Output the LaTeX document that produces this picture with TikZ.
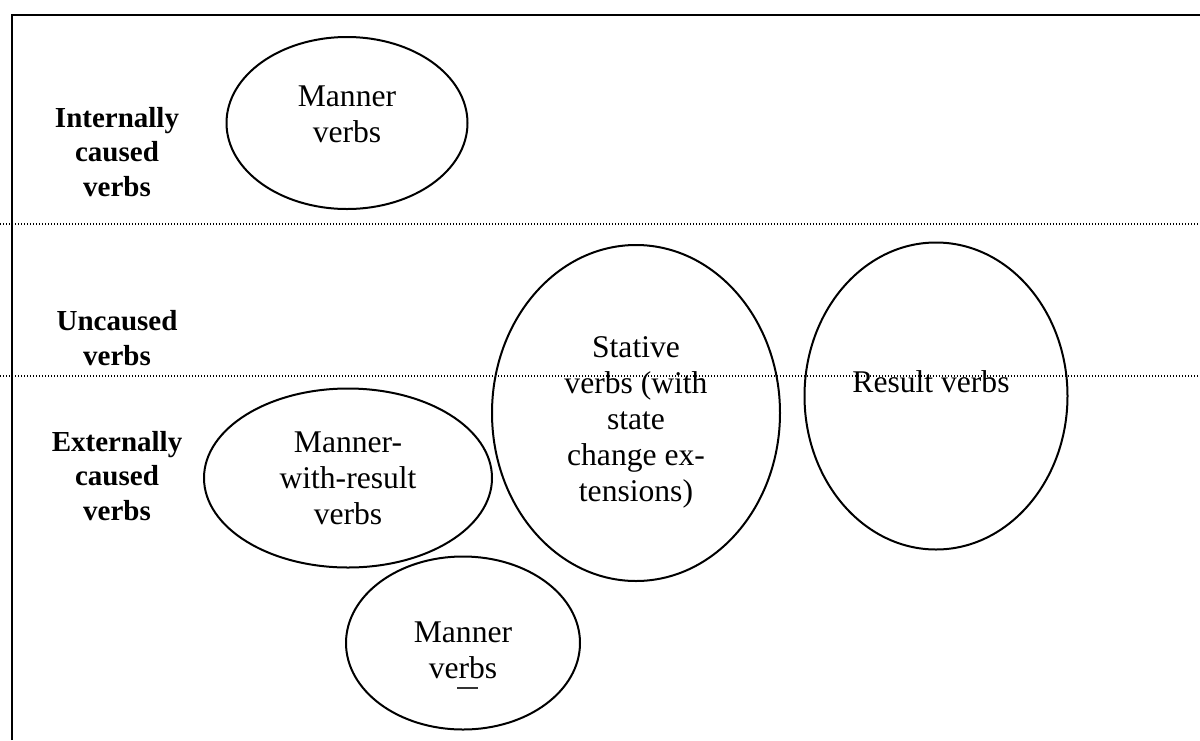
\documentclass[tikz,border=0pt]{standalone}
\usepackage{fontspec}
\setmainfont{Liberation Serif}
\usetikzlibrary{shapes.geometric,positioning}
\tikzstyle{verbset}=[draw,ellipse,line width=1pt,inner sep=0pt]
\tikzstyle{settext}=[align=center,inner sep=0pt,font=\fontsize{15.8}{18}\selectfont]
\tikzstyle{rowlabel}=[align=center,inner sep=0pt,font=\fontsize{14.5}{17.3}\selectfont\bfseries]
\tikzstyle{rowline}=[line width=0.7pt,dash pattern=on 0.7pt off 0.8pt]

\begin{document}
\begin{tikzpicture}[x=0.5pt,y=-0.5pt]
  \useasboundingbox (0,0) rectangle (1200,740);
  % frame
  \draw[line width=1pt] (12,740) -- (12,15) -- (1200,15);

  % row labels
  \node[rowlabel] (internal) at (117,152) {Internally\\caused\\verbs};
  \node[rowlabel] (uncaused) at (117,338) {Uncaused\\verbs};
  \node[rowlabel] (external) at (117,476) {Externally\\caused\\verbs};

  % verb classes
  \node[verbset,minimum width=120.5pt,minimum height=86pt]   (mannerI)  at (347,123) {};
  \node[verbset,minimum width=144pt,minimum height=89.5pt]   (mannerWR) at (348,478) {};
  \node[verbset,minimum width=144pt,minimum height=168pt]    (stative)  at (636,413) {};
  \node[verbset,minimum width=131.5pt,minimum height=153.5pt] (result)  at (936,396) {};
  \node[verbset,minimum width=117pt,minimum height=86.5pt]   (mannerE)  at (463,643) {};

  \node[settext] (mannerItxt)  at ([yshift=4.5pt]mannerI.center)  {Manner\\verbs};
  \node[settext] (mannerWRtxt) at (mannerWR.center)               {Manner-\\with-result\\verbs};
  \node[settext] (stativetxt)  at ([yshift=-4.5pt]stative.center) {Stative\\verbs (with\\state\\change ex-\\tensions)};
  \node[settext] (resulttxt)   at ([xshift=-2.5pt,yshift=7pt]result.center) {Result verbs};
  \node[settext] (mannerEtxt)  at ([yshift=-3.5pt]mannerE.center) {Manner\\verbs};
  \draw[line width=0.8pt,black!80] (457,688) -- (478,688);

  % row borders
  \draw[rowline] (0,224) -- (1200,224);
  \draw[rowline] (0,376) -- (1200,376);
\end{tikzpicture}
\end{document}
